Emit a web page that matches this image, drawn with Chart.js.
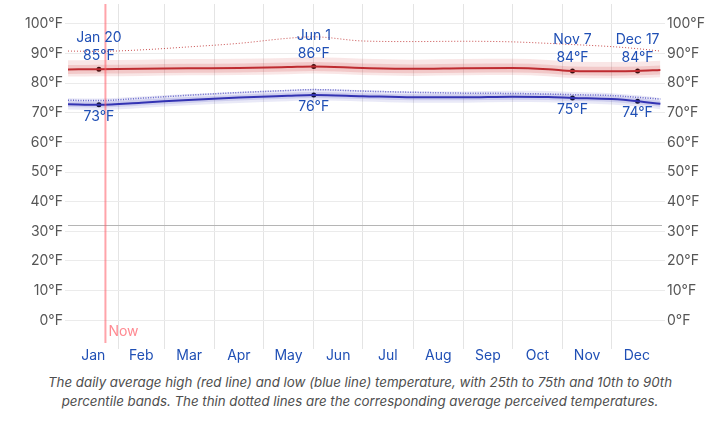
<!DOCTYPE html>
<html>
<head>
<meta charset="utf-8">
<script src="https://cdn.jsdelivr.net/npm/chart.js@4"></script>
<style>
  body { margin: 0; background: #fff; }
  #wrap { position: relative; width: 720px; height: 422px; }
  #caption { position: absolute; left: 0; top: 373px; width: 720px; text-align: center;
    font: italic 13.3px Inter, "Liberation Sans", sans-serif; color: #4e4e4e; line-height: 19px; }
</style>
</head>
<body>
<div id="wrap">
  <canvas id="myChart" width="720" height="370" style="width:720px;height:370px"></canvas>
  <div id="caption">The daily average high (red line) and low (blue line) temperature, with 25th to 75th and 10th to 90th<br>percentile bands. The thin dotted lines are the corresponding average perceived temperatures.</div>
</div>
<script>
// day of year for each reading
const days = [0, 19, 45, 74, 105, 135, 151, 181, 212, 243, 273, 295, 310, 334, 350, 364];

const high     = [84.6, 84.7, 84.8, 85.0, 85.1, 85.4, 85.6, 85.1, 84.8, 85.0, 85.1, 84.7, 84.1, 84.0, 84.1, 84.4];
const high75   = [86.1, 86.2, 86.3, 86.5, 86.6, 86.9, 87.1, 86.6, 86.3, 86.5, 86.6, 86.2, 85.6, 85.5, 85.6, 85.9];
const high25   = [83.1, 83.2, 83.3, 83.5, 83.6, 83.9, 84.1, 83.6, 83.3, 83.5, 83.6, 83.2, 82.6, 82.5, 82.6, 82.9];
const high90   = [87.7, 87.8, 87.9, 88.1, 88.2, 88.5, 88.7, 88.2, 87.9, 88.1, 88.2, 87.8, 87.2, 87.1, 87.2, 87.5];
const high10   = [82.2, 82.3, 82.4, 82.6, 82.7, 83.0, 83.2, 82.7, 82.4, 82.6, 82.7, 82.3, 81.7, 81.6, 81.7, 82.0];
const highFeel = [90.8, 90.7, 91.2, 92.2, 93.4, 95.1, 95.6, 94.2, 94.0, 94.1, 93.9, 93.4, 93.0, 92.3, 91.6, 90.8];

const low      = [72.9, 72.7, 73.4, 74.3, 75.1, 75.7, 76.0, 75.6, 75.2, 75.2, 75.4, 75.3, 75.0, 74.6, 73.9, 73.0];
const low75    = [73.9, 73.8, 74.5, 75.3, 76.1, 76.7, 77.0, 76.6, 76.2, 76.2, 76.4, 76.3, 76.0, 75.6, 74.9, 74.0];
const low25    = [71.9, 71.7, 72.4, 73.3, 74.1, 74.7, 75.0, 74.6, 74.2, 74.2, 74.4, 74.3, 74.0, 73.6, 72.9, 72.0];
const low90    = [74.9, 74.8, 75.5, 76.3, 77.1, 77.7, 78.0, 77.6, 77.2, 77.2, 77.4, 77.3, 77.0, 76.6, 75.9, 75.0];
const low10    = [71.1, 70.9, 71.6, 72.5, 73.3, 73.9, 74.2, 73.8, 73.4, 73.4, 73.6, 73.5, 73.2, 72.8, 72.1, 71.2];
const lowFeel  = [74.2, 74.1, 74.9, 75.9, 76.8, 77.5, 77.8, 77.3, 76.9, 76.6, 76.5, 76.3, 76.1, 75.8, 75.2, 74.6];

// annotated days (index into days)
const markIdx = [1, 6, 12, 14];
const markNames = ['Jan 20', 'Jun 1', 'Nov 7', 'Dec 17'];

const months = ['Jan', 'Feb', 'Mar', 'Apr', 'May', 'Jun', 'Jul', 'Aug', 'Sep', 'Oct', 'Nov', 'Dec'];
const monthStarts = [31, 59, 90, 120, 151, 181, 212, 243, 273, 304, 334];
const monthMids = [15.5, 45, 74.5, 105, 135.5, 166, 196.5, 227.5, 258, 288.5, 319, 349.5];
const yTicks = [0, 10, 20, 30, 40, 50, 60, 70, 80, 90, 100];
const nowDay = 23;
const freezing = 32;

Chart.defaults.font.family = 'Inter, "Liberation Sans", sans-serif';
Chart.defaults.font.size = 14;

const pts = arr => arr.map((v, i) => ({x: days[i], y: v}));

function line(data, color, width, extra) {
  return Object.assign({
    data: pts(data), borderColor: color, borderWidth: width, pointRadius: 0,
    cubicInterpolationMode: 'monotone', fill: false
  }, extra || {});
}

function noPad(s) {
  s.paddingTop = 0; s.paddingBottom = 0; s.paddingLeft = 0; s.paddingRight = 0;
}

const blue = '#1f4fb5';

const overlay = {
  id: 'overlay',
  beforeDatasetsDraw(chart) {
    const {ctx, chartArea, scales} = chart;
    const y = Math.round(scales.y.getPixelForValue(freezing)) + 0.5;
    ctx.save();
    ctx.strokeStyle = '#b5b5b5';
    ctx.lineWidth = 1;
    ctx.beginPath();
    ctx.moveTo(chartArea.left, y);
    ctx.lineTo(chartArea.right, y);
    ctx.stroke();
    ctx.restore();
  },
  afterDatasetsDraw(chart) {
    const {ctx, chartArea, scales} = chart;
    const x = scales.x.getPixelForValue(nowDay);
    ctx.save();
    ctx.strokeStyle = 'rgba(255,90,100,0.55)';
    ctx.lineWidth = 2;
    ctx.beginPath();
    ctx.moveTo(x, chartArea.top);
    ctx.lineTo(x, chartArea.bottom - 2);
    ctx.stroke();
    ctx.fillStyle = '#ff8a92';
    ctx.textAlign = 'left';
    ctx.textBaseline = 'middle';
    ctx.font = '14px Inter, "Liberation Sans", sans-serif';
    ctx.fillText('Now', x + 3, scales.y.getPixelForValue(-4));

    ctx.fillStyle = blue;
    ctx.textAlign = 'center';
    markIdx.forEach((i, k) => {
      const px = scales.x.getPixelForValue(days[i]);
      const hy = scales.y.getPixelForValue(high[i]);
      const ly = scales.y.getPixelForValue(low[i]);
      ctx.fillText(markNames[k], px, hy - 31);
      ctx.fillText(Math.round(high[i]) + '°F', px, hy - 13);
      ctx.fillText(Math.round(low[i]) + '°F', px, ly + 12);
    });
    ctx.restore();
  }
};

const config = {
  type: 'line',
  data: {
    datasets: [
      line(high90, 'transparent', 0, {fill: 1, backgroundColor: 'rgba(205,60,60,0.13)'}),
      line(high10, 'transparent', 0),
      line(high75, 'transparent', 0, {fill: 3, backgroundColor: 'rgba(205,60,60,0.17)'}),
      line(high25, 'transparent', 0),
      line(low90, 'transparent', 0, {fill: 5, backgroundColor: 'rgba(70,70,190,0.12)'}),
      line(low10, 'transparent', 0),
      line(low75, 'transparent', 0, {fill: 7, backgroundColor: 'rgba(70,70,190,0.17)'}),
      line(low25, 'transparent', 0),
      line(highFeel, 'rgba(195,60,60,0.9)', 1, {borderDash: [1, 2]}),
      line(lowFeel, 'rgba(90,90,200,0.9)', 1.5, {borderDash: [1, 1.5]}),
      line(high, '#b8262c', 2),
      line(low, '#2c2cb0', 2),
      {
        type: 'scatter',
        data: markIdx.flatMap(i => [{x: days[i], y: high[i]}, {x: days[i], y: low[i]}]),
        pointRadius: 2.5, pointBackgroundColor: '#000', pointBorderWidth: 0
      }
    ]
  },
  options: {
    responsive: false,
    animation: false,
    layout: {padding: 0},
    plugins: {legend: {display: false}, tooltip: {enabled: false}},
    scales: {
      x: {
        type: 'linear', min: 0, max: 365,
        afterBuildTicks: s => { s.ticks = monthStarts.concat(monthMids).map(v => ({value: v})); },
        afterFit: s => { s.height = 25; noPad(s); },
        grid: {
          color: c => (c.tick && monthStarts.includes(c.tick.value)) ? '#e4e4e4' : 'rgba(0,0,0,0)',
          tickLength: 4, drawTicks: true
        },
        border: {display: false},
        ticks: {
          autoSkip: false, maxRotation: 0, padding: -2, color: blue,
          callback: v => { const i = monthMids.indexOf(v); return i >= 0 ? months[i] : ''; }
        }
      },
      y: {
        position: 'left', min: -8.33, max: 106.67,
        afterBuildTicks: s => { s.ticks = yTicks.map(v => ({value: v})); },
        afterFit: s => { s.width = 68; noPad(s); },
        grid: {color: '#ebebeb', tickLength: 3},
        border: {display: false},
        ticks: {color: '#555', padding: 2, callback: v => v + '°F'}
      },
      y2: {
        position: 'right', min: -8.33, max: 106.67,
        afterBuildTicks: s => { s.ticks = yTicks.map(v => ({value: v})); },
        afterFit: s => { s.width = 58; noPad(s); },
        grid: {drawOnChartArea: false, color: '#ebebeb', tickLength: 3},
        border: {display: false},
        ticks: {color: '#555', padding: 2, callback: v => v + '°F'}
      }
    }
  },
  plugins: [overlay]
};

const myChart = new Chart(document.getElementById('myChart'), config);
</script>
</body>
</html>
